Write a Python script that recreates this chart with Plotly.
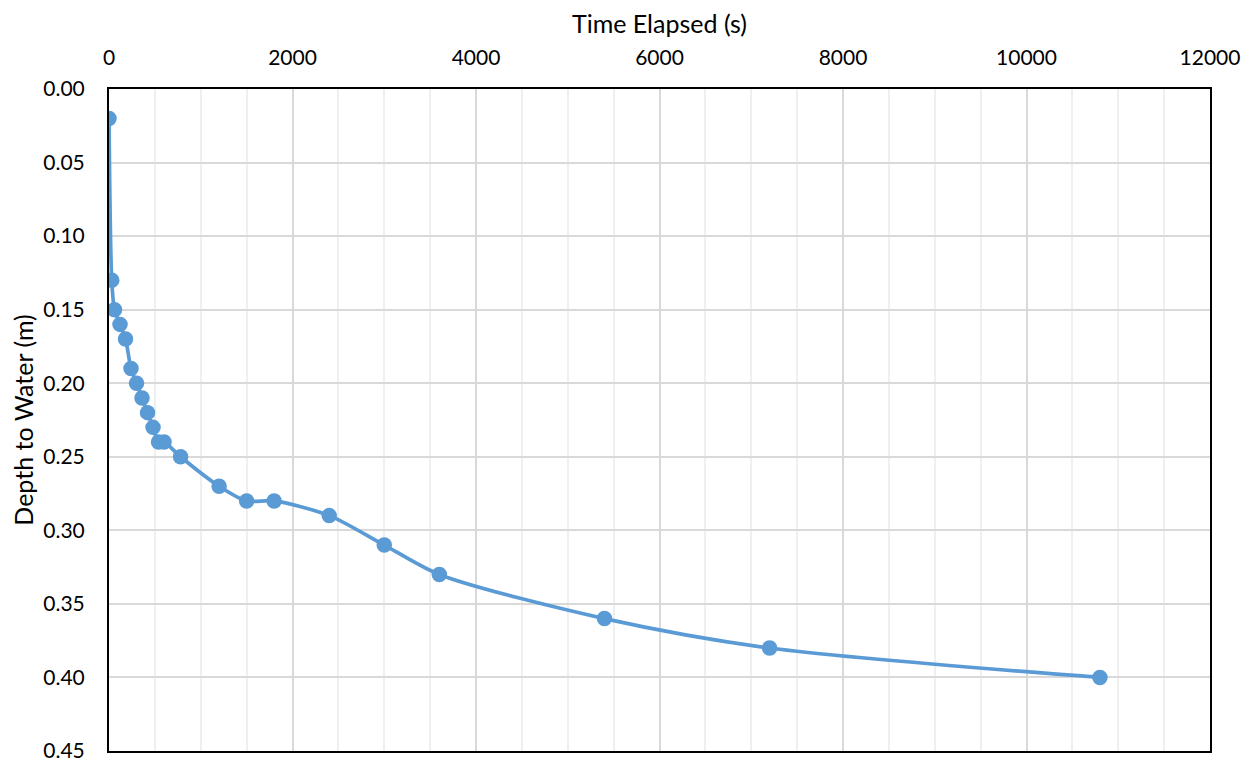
import plotly.graph_objects as go

time_s = [0, 30, 60, 120, 180, 240, 300, 360, 420, 480, 540, 600, 780,
          1200, 1500, 1800, 2400, 3000, 3600, 5400, 7200, 10800]
depth_m = [0.02, 0.13, 0.15, 0.16, 0.17, 0.19, 0.20, 0.21, 0.22, 0.23, 0.24, 0.24, 0.25,
           0.27, 0.28, 0.28, 0.29, 0.31, 0.33, 0.36, 0.38, 0.40]

x_title = "Time Elapsed (s)"
y_title = "Depth to Water (m)"

color = "#5B9BD5"
font_family = "Lato, 'Open Sans', sans-serif"

fig = go.Figure(go.Scatter(
    x=time_s, y=depth_m, mode="lines+markers",
    line=dict(color=color, width=3.7, shape="spline", smoothing=0.8),
    marker=dict(color=color, size=15.5),
    showlegend=False,
))

fig.update_layout(
    width=1250, height=764,
    margin=dict(l=101, r=48, t=81, b=21),
    paper_bgcolor="white", plot_bgcolor="white",
    font=dict(family=font_family, size=21, color="black"),
    xaxis=dict(
        side="top", range=[0, 12000], dtick=2000, tick0=0, tickformat="d",
        showgrid=True, gridcolor="#d9d9d9", gridwidth=1.5,
        minor=dict(dtick=500, showgrid=True, gridcolor="#efefef", gridwidth=1.5),
        showline=True, mirror=True, linecolor="black", linewidth=2,
        ticks="", zeroline=False, automargin=False, ticklabelstandoff=14,
        title=dict(text=x_title, standoff=11),
    ),
    yaxis=dict(
        range=[0.45, 0], dtick=0.05, tick0=0, tickformat=".2f",
        showgrid=True, gridcolor="#d9d9d9", gridwidth=1.5,
        showline=True, mirror=True, linecolor="black", linewidth=2,
        ticks="", zeroline=False, automargin=False, ticklabelstandoff=18,
        title=dict(text=y_title, standoff=8),
    ),
)

fig.write_html("out.html")
